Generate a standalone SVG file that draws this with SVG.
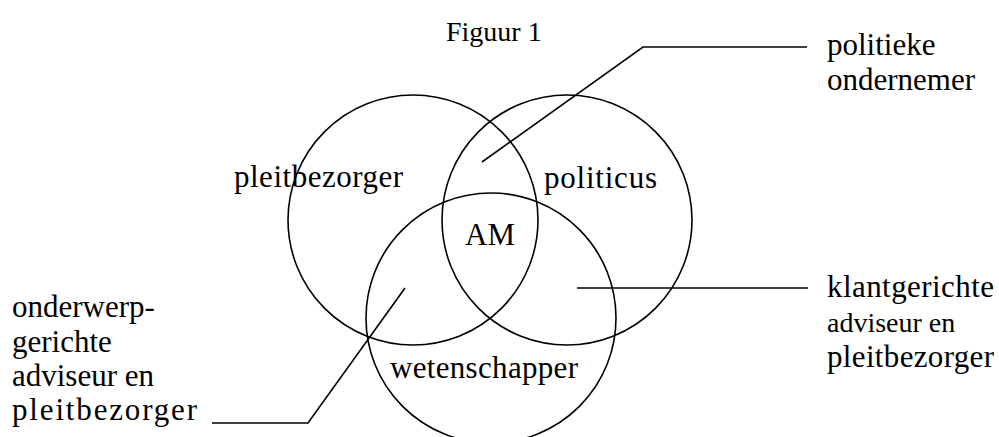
<svg xmlns="http://www.w3.org/2000/svg" width="999" height="437" viewBox="0 0 999 437">
<style>
text { font-family: "Liberation Serif", "Times New Roman", serif; font-size: 31px; fill: #000; }
.c { fill: none; stroke: #000; stroke-width: 1.6; }
.l { fill: none; stroke: #000; stroke-width: 1.6; }
</style>
<rect width="999" height="437" fill="#fff"/>
<text x="446" y="41" style="font-size:28px">Figuur 1</text>
<g id="pleitbezorger">
<circle class="c" cx="413" cy="220" r="125"/>
<text x="234" y="187" textLength="169" lengthAdjust="spacing">pleitbezorger</text>
</g>
<g id="politicus">
<circle class="c" cx="567" cy="220" r="125"/>
<text x="544" y="188" textLength="113" lengthAdjust="spacing">politicus</text>
</g>
<g id="wetenschapper">
<circle class="c" cx="491" cy="318" r="125"/>
<text x="390" y="378" textLength="188" lengthAdjust="spacing">wetenschapper</text>
</g>
<g id="am">
<text x="465" y="245">AM</text>
</g>
<g id="politieke-ondernemer">
<text x="827" y="55">politieke</text>
<text x="827" y="90">ondernemer</text>
</g>
<g id="klantgerichte">
<text x="827" y="297" textLength="167" lengthAdjust="spacing">klantgerichte</text>
<text x="827" y="332" style="font-size:28px">adviseur en</text>
<text x="827" y="367" textLength="167" lengthAdjust="spacing">pleitbezorger</text>
</g>
<g id="onderwerpgerichte">
<text x="12" y="317">onderwerp-</text>
<text x="12" y="352">gerichte</text>
<text x="12" y="386">adviseur en</text>
<text x="12" y="420" textLength="185" lengthAdjust="spacing">pleitbezorger</text>
</g>
<g id="connectors">
<polyline class="l" points="807,47 643,47 482,162"/>
<polyline class="l" points="577,288 808,288"/>
<polyline class="l" points="212,423 308,423 405,288"/>
</g>
</svg>
